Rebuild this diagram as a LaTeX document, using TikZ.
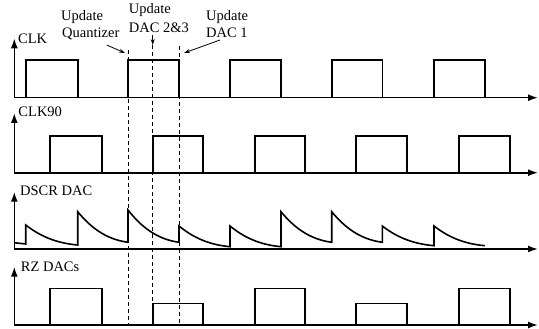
\documentclass[tikz,border=0pt]{standalone}
\usepackage{fontspec}
\setmainfont{Liberation Serif}
\usetikzlibrary{arrows.meta}
\begin{document}
\begin{tikzpicture}[x=1pt,y=-1pt,
  wave/.style={line width=1.6pt, line join=miter},
  axis/.style={line width=1.6pt,-{Latex[length=10pt,width=7pt]}},
  guide/.style={line width=0.8pt, dash pattern=on 4pt off 3pt},
  note/.style={line width=0.8pt,-{Stealth[length=6pt,width=4pt]}},
  lbl/.style={font=\fontsize{14.5}{17}\selectfont, inner sep=0pt, anchor=base west}]
\useasboundingbox (0,0) rectangle (539,329);

% ---------- axes ----------
\foreach \yb/\yt in {97.7/38.3, 172.7/113, 249/191.7, 325/266.7}{
  \draw[axis] (14.3,\yb) -- (14.3,\yt);
  \draw[axis] (14.3,\yb) -- (538,\yb);
}

% ---------- labels ----------
\node[lbl] (clk)   at (18,44)    {CLK};
\node[lbl] (clk90) at (18.3,117) {CLK90};
\node[lbl] (dscr)  at (20,195)   {DSCR DAC};
\node[lbl] (rz)    at (20.7,271.7) {RZ DACs};

\node[lbl] (uq1) at (61,21)    {Update};
\node[lbl] (uq2) at (62,37.7)  {Quantizer};
\node[lbl] (um1) at (128.7,14) {Update};
\node[lbl] (um2) at (128.7,33) {DAC 2\&3};
\node[lbl] (ud1) at (206,21)   {Update};
\node[lbl] (ud2) at (206,38)   {DAC 1};

% ---------- CLK ----------
\foreach \a/\b in {26/77.7, 128/179, 230/281, 331.7/382.3, 434/485}{
  \draw[wave] (\a,97.7) -- (\a,60.3) -- (\b,60.3) -- (\b,97.7);
}
% ---------- CLK90 ----------
\foreach \a/\b in {50/101.7, 152.7/203, 255/305, 356/407, 459/510}{
  \draw[wave] (\a,172.7) -- (\a,136) -- (\b,136) -- (\b,172.7);
}
% ---------- RZ DACs ----------
\foreach \a/\b/\h in {50/101.7/288.3, 152.7/203/303.3, 255/305/288.3, 356/407/303.3, 459/510/288.3}{
  \draw[wave] (\a,325) -- (\a,\h) -- (\b,\h) -- (\b,325);
}

% ---------- DSCR DAC ----------
\draw[wave] (14.3,242.7) -- (25.7,244) -- (25.7,225)
  .. controls (38.7,235) and (54.3,243) .. (77.7,245) -- (77.7,211.7)
  .. controls (90.3,227) and (105.4,239.2) .. (128,242.3) -- (128,210)
  .. controls (140.8,226.2) and (156.1,239.1) .. (179,242.3) -- (179,226)
  .. controls (191.8,236.4) and (207.1,244.6) .. (230,246.7) -- (230,226)
  .. controls (242.8,236.4) and (258.1,244.6) .. (281,246.7) -- (281,211.7)
  .. controls (293.7,227) and (308.9,239.2) .. (331.7,242.3) -- (331.7,211.7)
  .. controls (344.4,227) and (359.5,239.2) .. (382.3,242.3) -- (382.3,226)
  .. controls (395.2,235.9) and (410.7,243.7) .. (434,245.7) -- (434,226)
  .. controls (446.8,235.9) and (462.1,243.7) .. (485,245.7);

% ---------- guide lines ----------
\coordinate (gq) at (128,50);
\coordinate (gm) at (152.7,45);
\coordinate (gd) at (179,46);
\draw[guide] (gq) -- (128,325);
\draw[guide] (gm) -- (152.7,325);
\draw[guide] (gd) -- (179,325);

% ---------- annotation arrows ----------
\coordinate (qs) at (106.7,45);
\coordinate (qe) at (125,53);
\coordinate (ms) at (152.7,35);
\coordinate (ds) at (220,40);
\coordinate (de) at (184,53);
\draw[note] (qs) -- (qe);
\draw[note] (ms) -- (gm);
\draw[note] (ds) -- (de);
\end{tikzpicture}
\end{document}
